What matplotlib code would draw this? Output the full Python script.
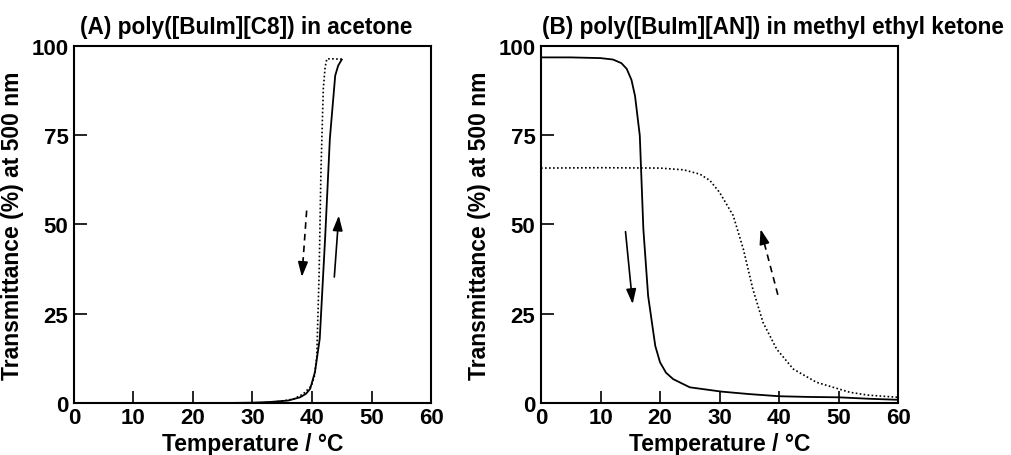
import numpy as np
import matplotlib.pyplot as plt

plt.rcParams['font.family'] = ['Liberation Sans', 'DejaVu Sans']
plt.rcParams['font.weight'] = 'bold'

# panel A: poly([BuIm][C8]) in acetone
a_heat_T = [25, 30, 33, 36, 38, 39.0, 39.7, 40.5, 41.3, 42.2, 43.0, 43.9, 44.4, 45.0]
a_heat_tr = [0.0, 0.1, 0.3, 0.7, 1.6, 2.6, 4.0, 8.7, 18, 46, 74, 91.7, 94.5, 96.2]
a_cool_T = [45.0, 43.5, 42.5, 42.2, 41.9, 41.5, 41.2, 40.8, 40.4, 39.9, 38.5, 37, 35, 32]
a_cool_tr = [96.3, 96.4, 96.4, 94, 88, 64.7, 36.6, 13, 7.5, 4.8, 2.5, 1.2, 0.5, 0.1]

# panel B: poly([BuIm][AN]) in methyl ethyl ketone
b_cool_T = [0, 5, 10, 12.1, 13.5, 14.4, 15.2, 15.8, 16.6, 17.2, 18.0, 19.2, 20.0, 21,
            22.2, 25, 30.3, 35, 40, 45, 50, 55, 60]
b_cool_tr = [96.8, 96.8, 96.6, 96.2, 95.2, 93.6, 90.5, 86, 74.9, 48.7, 30, 16, 11.4, 8.5,
             6.7, 4.4, 3.2, 2.5, 1.9, 1.7, 1.6, 1.2, 0.9]
b_heat_T = [0, 10, 20, 24, 26.7, 28.4, 30, 32.3, 34, 35.6, 37.3, 39.6, 42.4, 46.3, 51.9, 55, 60]
b_heat_tr = [65.8, 65.9, 65.8, 65.3, 64.1, 62.3, 59, 52.5, 43.1, 31.9, 22.6, 15.1, 9.5, 5.8,
             3.0, 2.2, 1.6]

# arrows: (T_start, tr_start, T_end, tr_end)
a_arrow_heat = (43.75, 35.3, 44.5, 52.5)
a_arrow_cool = (39.1, 53.9, 38.3, 35.3)
b_arrow_cool = (14.2, 48.0, 15.4, 27.7)
b_arrow_heat = (39.8, 30.3, 36.9, 48.7)

titles = ['(A) poly([BuIm][C8]) in acetone', '(B) poly([BuIm][AN]) in methyl ethyl ketone']
title_x = [0.017, 0.003]

fig = plt.figure(figsize=(10.12, 4.56), dpi=100)
ax1 = fig.add_axes([0.0731, 0.114, 0.3528, 0.783])
ax2 = fig.add_axes([0.5346, 0.114, 0.3528, 0.783])

dot = (0, (1, 1.4))


def solid_arrow(ax, a):
    ax.annotate('', xy=(a[2], a[3]), xytext=(a[0], a[1]),
                arrowprops=dict(arrowstyle='-|>,head_length=0.9,head_width=0.3',
                                color='black', lw=1.2, shrinkA=0, shrinkB=0))


def dashed_arrow(ax, a):
    f = 0.75
    mx = a[0] + f * (a[2] - a[0])
    my = a[1] + f * (a[3] - a[1])
    ax.plot([a[0], mx], [a[1], my], color='black', lw=1.2, ls=(0, (4, 3)))
    ax.annotate('', xy=(a[2], a[3]), xytext=(mx, my),
                arrowprops=dict(arrowstyle='-|>,head_length=0.9,head_width=0.3',
                                color='black', lw=1.2, shrinkA=0, shrinkB=0))


ax1.plot(a_heat_T, a_heat_tr, color='black', lw=1.3)
ax1.plot(a_cool_T, a_cool_tr, color='black', lw=1.2, ls=dot)
solid_arrow(ax1, a_arrow_heat)
dashed_arrow(ax1, a_arrow_cool)

ax2.plot(b_cool_T, b_cool_tr, color='black', lw=1.3)
ax2.plot(b_heat_T, b_heat_tr, color='black', lw=1.2, ls=dot)
solid_arrow(ax2, b_arrow_cool)
dashed_arrow(ax2, b_arrow_heat)

for ax, t, tx in zip([ax1, ax2], titles, title_x):
    ax.set_xlim(0, 60)
    ax.set_ylim(0, 100)
    ax.set_xticks([0, 10, 20, 30, 40, 50, 60])
    ax.set_yticks([0, 25, 50, 75, 100])
    ax.tick_params(direction='in', length=9, width=1.2, labelsize=16)
    ax.tick_params(axis='x', pad=3)
    ax.tick_params(axis='y', pad=4)
    for s in ax.spines.values():
        s.set_linewidth(1.5)
    ax.set_xlabel('Temperature / °C', fontsize=16.5, fontweight='bold', labelpad=3)
    ax.set_ylabel('Transmittance (%) at 500 nm', fontsize=16.5, fontweight='bold', labelpad=5)
    ax.set_title(t, fontsize=16.3, fontweight='bold', loc='left', x=tx, pad=9)

fig.savefig('out.png', dpi=100)
